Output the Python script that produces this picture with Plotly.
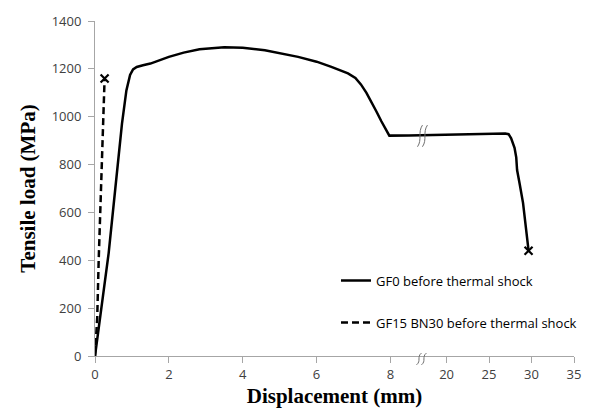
import plotly.graph_objects as go

# Tensile test curves (displacement in mm, load in MPa)
gf0_disp = [0, 0.05, 0.2, 0.37, 0.55, 0.73, 0.85, 0.95, 1.03, 1.13, 1.3,
            1.5, 2.0, 2.4, 2.83, 3.5, 4.0, 4.6, 5.5, 6.0, 6.4, 6.85, 7.05, 7.2,
            7.35, 7.48, 7.62, 7.75, 7.87, 7.97, 8.5, 18, 20, 22, 24, 26.9, 27.3,
            27.6, 28.0, 28.2, 28.3, 28.45, 28.6, 29.0, 29.4, 29.65]
gf0_load = [0, 60, 230, 430, 700, 970, 1110, 1175, 1198, 1208, 1215,
            1222, 1250, 1268, 1282, 1290, 1288, 1278, 1250, 1230, 1208, 1181, 1162, 1135,
            1100, 1065, 1022, 982, 945, 921, 922, 924, 926, 927, 929, 930, 927,
            910, 870, 830, 777, 740, 720, 640, 531, 440]

gf15_disp = [0, 0.03, 0.06, 0.1, 0.19, 0.25, 0.26]
gf15_load = [0, 80, 160, 400, 840, 1110, 1160]

x_ticks = [0, 2, 4, 6, 8, 20, 25, 30, 35]
x_tick_labels = ["0", "2", "4", "6", "8", "20", "25", "30", "35"]
y_ticks = [0, 200, 400, 600, 800, 1000, 1200, 1400]

# Broken x axis: 0-8.84 mm drawn at full scale, beyond the break at a compressed scale
BREAK = 8.84
RIGHT_ORIGIN = 9.52   # axis position of 20 mm
RIGHT_SCALE = 0.23    # axis units per mm after the break


def to_axis(x):
    if x <= BREAK:
        return x
    return RIGHT_ORIGIN + (x - 20) * RIGHT_SCALE


X_MAX = to_axis(35)

W, H = 594, 418
ML, MR, MT, MB = 95, 16, 15, 62
PW, PH = W - ML - MR, H - MT - MB

fig = go.Figure()

fig.add_trace(go.Scatter(
    x=[to_axis(v) for v in gf0_disp], y=gf0_load, mode="lines",
    name="GF0 before thermal shock", legendgroup="a",
    line=dict(color="black", width=2.5), hoverinfo="skip"))
fig.add_trace(go.Scatter(
    x=[to_axis(v) for v in gf15_disp], y=gf15_load, mode="lines",
    name="GF15 BN30 before thermal shock", legendgroup="b",
    line=dict(color="black", width=2.5, dash="7px,4px"), hoverinfo="skip"))

# Fracture points
fig.add_trace(go.Scatter(
    x=[to_axis(gf0_disp[-1]), to_axis(gf15_disp[-1])],
    y=[gf0_load[-1], gf15_load[-1]], mode="markers", showlegend=False,
    marker=dict(symbol="x-thin", size=8, line=dict(color="black", width=2.2)),
    hoverinfo="skip"))


def px_to_paper(px, py):
    return (px - ML) / PW, (H - MB - py) / PH


def break_mark(cx_px, cy_px, h):
    # two parallel S-shaped strokes centred at (cx_px, cy_px)
    paths = []
    for off in (-2.5, 2.5):
        x0, y0 = px_to_paper(cx_px + off - 2.5, cy_px + h / 2)
        c1x, c1y = px_to_paper(cx_px + off + 2.5, cy_px + h / 6)
        c2x, c2y = px_to_paper(cx_px + off - 2.5, cy_px - h / 6)
        x1, y1 = px_to_paper(cx_px + off + 2.5, cy_px - h / 2)
        paths.append(dict(
            type="path", xref="paper", yref="paper",
            path=f"M{x0},{y0} C{c1x},{c1y} {c2x},{c2y} {x1},{y1}",
            line=dict(color="#6f6f6f", width=1)))
    return paths


brk_px = ML + BREAK / X_MAX * PW
shapes = break_mark(brk_px, 359, 12) + break_mark(brk_px + 1, 132, 22)

tick_font = dict(family="Open Sans", size=13, color="#404040")
title_font = dict(family="Liberation Serif", size=21, color="black")

fig.update_layout(
    width=W, height=H,
    margin=dict(l=ML, r=MR, t=MT, b=MB, pad=0),
    paper_bgcolor="white", plot_bgcolor="white",
    shapes=shapes,
    hovermode=False,
    legend=dict(
        x=(338 - ML) / PW, y=(H - MB - 264) / PH, xanchor="left", yanchor="top",
        font=dict(family="Open Sans", size=13, color="black"),
        bgcolor="rgba(0,0,0,0)", traceorder="grouped", tracegroupgap=22),
    xaxis=dict(
        range=[0, X_MAX], tickmode="array",
        tickvals=[to_axis(v) for v in x_ticks], ticktext=x_tick_labels,
        showgrid=False, zeroline=False, showline=True, linecolor="#a6a6a6",
        linewidth=1, ticks="outside", ticklen=6, tickcolor="#a6a6a6",
        tickfont=tick_font,
        title=dict(text="<b>Displacement (mm)</b>", font=title_font, standoff=6)),
    yaxis=dict(
        range=[0, 1400], tickmode="array", tickvals=y_ticks,
        showgrid=False, zeroline=False, showline=True, linecolor="#a6a6a6",
        linewidth=1, ticks="outside", ticklen=6, tickcolor="#a6a6a6",
        tickfont=tick_font, ticklabelstandoff=4,
        title=dict(text="<b>Tensile load (MPa)</b>", font=title_font, standoff=10)),
)

fig.write_html("out.html")
